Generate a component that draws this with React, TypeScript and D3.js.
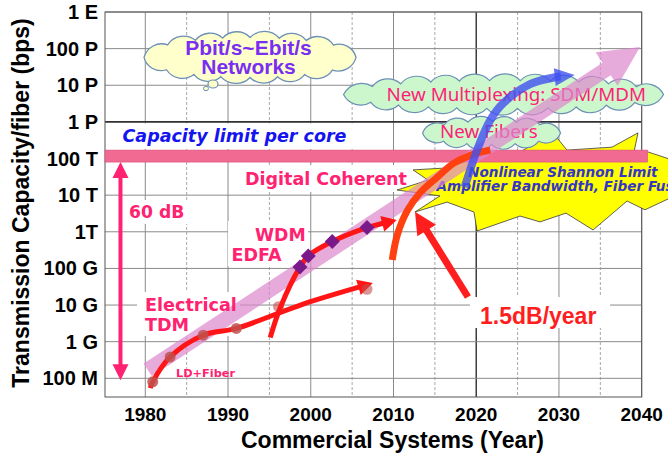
import * as d3 from 'd3';

const W = 668;
const H = 454;

// axis ticks
const yearTicks = [1980, 1990, 2000, 2010, 2020, 2030, 2040];
const midYearTicks = [1985, 1995, 2005, 2015, 2025, 2035];
const capacityTicks = [1e8, 1e9, 1e10, 1e11, 1e12, 1e13, 1e14, 1e15, 1e16, 1e17, 1e18];
const capacityLabels = ['100 M', '1 G', '10 G', '100 G', '1T', '10 T', '100 T', '1 P', '10 P', '100 P', '1 E'];

// Electrical TDM era
const tdmYears = [1980.6, 1980.9, 1983.0, 1987.0, 1991.0, 1999.0, 2007.5];
const tdmValues = [5.4e7, 8e7, 3.8e8, 1.5e9, 2.3e9, 1.05e10, 4e10];
const tdmDotYears = [1980.9, 1983.0, 1987.0, 1991.0, 1996.1, 2006.8];
const tdmDotValues = [8e7, 3.8e8, 1.5e9, 2.3e9, 9e9, 2.7e10];

// WDM / EDFA era
const wdmYears = [1995.1, 1996.3, 1998.7, 1999.7, 2002.6, 2006.8, 2010.4];
const wdmValues = [1.3e9, 8.3e9, 1.1e11, 2.2e11, 5.4e11, 1.3e12, 2.1e12];
const wdmDiamondYears = [1998.7, 1999.7, 2002.6, 2006.8];
const wdmDiamondValues = [1.1e11, 2.2e11, 5.4e11, 1.3e12];

// Digital coherent
const coherentYears = [2009.85, 2010.45, 2011.7, 2013.3, 2015.3, 2017.35, 2020.1, 2021.7];
const coherentValues = [1.7e11, 8.1e11, 3.9e12, 1.22e13, 3.1e13, 7.6e13, 1.41e14, 1.7e14];

// New multiplexing SDM/MDM
const sdmYears = [2018.6, 2020.1, 2021.7, 2023.3, 2026.5, 2029.8, 2031.9];
const sdmValues = [1.66e13, 1.7e14, 1.12e15, 3.3e15, 1.07e16, 1.7e16, 1.9e16];

// overall trend (1.5 dB/year)
const trendYears = [1980.3, 2039.8];
const trendValues = [1.7e8, 1.1e17];

// capacity limit per core
const limitYears = [1975.13, 2040.7];
const limitValues = [8e13, 1.7e14];

// 60 dB span
const spanYear = 1977;
const spanValues = [8.9e7, 8e13];

// pointer from the "1.5dB/year" label
const pointerYears = [2019.0, 2012.6];
const pointerValues = [1.66e10, 3.5e12];

// nonlinear Shannon limit burst outline (year, log10 bps)
const burstYears = [2012.36, 2016.23, 2020.46, 2025.3, 2029.28, 2030.97, 2036.41, 2039.55, 2039.07, 2040.76, 2043.7,
  2043.7, 2040.4, 2038.23, 2034.12, 2030.85, 2027.71, 2025.29, 2020.1, 2019.73, 2016.47, 2012.6, 2015.62, 2010.43, 2014.17];
const burstExps = [13.69, 13.74, 14.04, 14.18, 14.7, 14.23, 14.31, 14.7, 14.18, 14.18, 13.96,
  12.95, 12.6, 12.84, 12.05, 12.51, 12.27, 12.43, 12.02, 12.54, 12.81, 12.54, 12.98, 13.14, 13.41];

const ARIAL = "Arial, 'Liberation Sans', sans-serif";
const NOTO = "'Noto Sans', sans-serif";
const DEJAVU = "'DejaVu Sans', Verdana, sans-serif";
const PINK = '#FF2270';

type Pt = [number, number];

function headPoints(tip: Pt, from: Pt, len: number, half: number) {
  const dx = tip[0] - from[0];
  const dy = tip[1] - from[1];
  const l = Math.hypot(dx, dy);
  const ux = dx / l;
  const uy = dy / l;
  const bx = tip[0] - ux * len;
  const by = tip[1] - uy * len;
  return `${tip[0]},${tip[1]} ${bx - uy * half},${by + ux * half} ${bx + uy * half},${by - ux * half}`;
}

function shorten(pts: Pt[], by: number): Pt[] {
  const n = pts.length;
  const a = pts[n - 2];
  const b = pts[n - 1];
  const l = Math.hypot(b[0] - a[0], b[1] - a[1]);
  const k = (l - by) / l;
  return [...pts.slice(0, n - 1), [a[0] + (b[0] - a[0]) * k, a[1] + (b[1] - a[1]) * k]];
}

function cloudPath(cx: number, cy: number, rx: number, ry: number, n: number) {
  // sample ellipse and space bumps by arc length
  const samples = d3.range(361).map((i) => {
    const t = (i / 360) * 2 * Math.PI + Math.PI;
    return [cx + rx * Math.cos(t), cy + ry * Math.sin(t)] as Pt;
  });
  const cum = [0];
  for (let i = 1; i < samples.length; i++) {
    cum.push(cum[i - 1] + Math.hypot(samples[i][0] - samples[i - 1][0], samples[i][1] - samples[i - 1][1]));
  }
  const total = cum[cum.length - 1];
  const pts: Pt[] = d3.range(n).map((k) => {
    const target = (k / n) * total;
    const idx = d3.bisectLeft(cum, target);
    return samples[Math.min(idx, samples.length - 1)];
  });
  let d = `M${pts[0][0]},${pts[0][1]}`;
  pts.forEach((p, i) => {
    const q = pts[(i + 1) % n];
    const r = Math.hypot(q[0] - p[0], q[1] - p[1]) * 0.68;
    d += ` A${r},${r} 0 0 1 ${q[0]},${q[1]}`;
  });
  return d + 'Z';
}

export default function App() {
  const x = d3.scaleLinear().domain([1975.13, 2040]).range([105, 641.7]);
  const y = d3.scaleLog().domain([10 ** 7.49, 1e18]).range([397, 12]);
  const pt = (yr: number, v: number): Pt => [x(yr), y(v)];
  const smooth = d3.line<Pt>().curve(d3.curveCatmullRom.alpha(0.5));

  const tdmPts = tdmYears.map((yr, i) => pt(yr, tdmValues[i]));
  const wdmPts = wdmYears.map((yr, i) => pt(yr, wdmValues[i]));
  const cohPts = coherentYears.map((yr, i) => pt(yr, coherentValues[i]));
  const sdmPts = sdmYears.map((yr, i) => pt(yr, sdmValues[i]));

  // trend arrow polygon
  const tS = pt(trendYears[0], trendValues[0]);
  const tT = pt(trendYears[1], trendValues[1]);
  const tl = Math.hypot(tT[0] - tS[0], tT[1] - tS[1]);
  const ux = (tT[0] - tS[0]) / tl;
  const uy = (tT[1] - tS[1]) / tl;
  const hw = 7.5;
  const hh = 20;
  const hl = 40;
  const tB: Pt = [tT[0] - ux * hl, tT[1] - uy * hl];
  const trendPoly = [
    [tS[0] - uy * hw, tS[1] + ux * hw],
    [tB[0] - uy * hw, tB[1] + ux * hw],
    [tB[0] - uy * hh, tB[1] + ux * hh],
    tT,
    [tB[0] + uy * hh, tB[1] - ux * hh],
    [tB[0] + uy * hw, tB[1] - ux * hw],
    [tS[0] + uy * hw, tS[1] - ux * hw],
  ]
    .map((p) => p.join(','))
    .join(' ');

  const burst = burstYears.map((yr, i) => pt(yr, 10 ** burstExps[i]).join(',')).join(' ');

  const spanTop = pt(spanYear, spanValues[1]);
  const spanBot = pt(spanYear, spanValues[0]);
  const pS = pt(pointerYears[0], pointerValues[0]);
  const pT = pt(pointerYears[1], pointerValues[1]);

  const petaLine = y(1e15);
  const whiteBoxes = [
    [106, petaLine + 1.5, 260, 149 - petaLine - 1.5],
    [240, 165, 172, 27],
    [126, 200, 64, 24],
    [228, 221, 80, 45],
    [137, 292, 103, 44],
    [470, 297, 140, 31],
  ];

  return (
    <svg width={W} height={H} style={{ position: 'absolute', left: 0, top: 0, background: '#fff' }}>
      {/* grid */}
      {midYearTicks.map((t) => (
        <line key={'m' + t} x1={x(t)} x2={x(t)} y1={12} y2={397} stroke="#a8a8a8" strokeDasharray="3,2" />
      ))}
      {yearTicks.map((t) => (
        <line key={'y' + t} x1={x(t)} x2={x(t)} y1={12} y2={397}
          stroke={t === 2020 ? '#303030' : '#8a8a8a'} strokeWidth={t === 2020 ? 1.4 : 1} />
      ))}
      {whiteBoxes.map((b, i) => (
        <rect key={'wb' + i} x={b[0]} y={b[1]} width={b[2]} height={b[3]} fill="#fff" />
      ))}
      {capacityTicks.map((t) => (
        <line key={'c' + t} x1={105} x2={641.7} y1={y(t)} y2={y(t)}
          stroke={t === 1e15 ? '#303030' : '#8a8a8a'} strokeWidth={t === 1e15 ? 1.6 : 1} />
      ))}
      {whiteBoxes.slice(1).map((b, i) => (
        <rect key={'wc' + i} x={b[0]} y={b[1]} width={b[2]} height={b[3]} fill="#fff" />
      ))}
      <rect x={105} y={12} width={536.7} height={385} fill="none" stroke="#555" />

      {/* Shannon limit burst */}
      <polygon points={burst} fill="#FFFF00" stroke="#3a3a3a" strokeWidth={0.8} />
      <text x={468} y={176.5} fontFamily={DEJAVU} fontSize={13.6} fontWeight="bold" fontStyle="italic" fill="#3535C8">
        Nonlinear Shannon Limit
      </text>
      <text x={436.5} y={190.5} fontFamily={DEJAVU} fontSize={13.6} fontWeight="bold" fontStyle="italic" fill="#3535C8">
        Amplifier Bandwidth, Fiber Fuse
      </text>

      {/* capacity limit per core */}
      <rect x={x(limitYears[0])} y={y(limitValues[1])} width={x(limitYears[1]) - x(limitYears[0])}
        height={y(limitValues[0]) - y(limitValues[1])} fill="#F06A92" stroke="#D8507A" strokeWidth={0.6} />

      {/* clouds */}
      <path d={cloudPath(x(1992.66), y(5.75e16), 106, 20, 16)} fill="#FFFFCC" stroke="#6B8FB5" strokeWidth={1.3} />
      <ellipse cx={213} cy={84} rx={5} ry={4} fill="#FFFFCC" stroke="#6B8FB5" strokeWidth={1.2} />
      <ellipse cx={206} cy={88.5} rx={2.5} ry={2.2} fill="#FFFFCC" stroke="#6B8FB5" strokeWidth={1} />
      <path d={cloudPath(x(2023.3), y(5.6e15), 160, 14, 22)} fill="#CCF7CC" stroke="#6B8FB5" strokeWidth={1.2} />
      <path d={cloudPath(x(2021.85), y(5e14), 69, 11.5, 12)} fill="#CCF7CC" stroke="#6B8FB5" strokeWidth={1.2} />
      <text x={248.5} y={55} textAnchor="middle" fontFamily={ARIAL} fontSize={21} fontWeight="bold" fill="#7A2EF2">
        Pbit/s~Ebit/s
      </text>
      <text x={248.5} y={73.5} textAnchor="middle" fontFamily={ARIAL} fontSize={21} fontWeight="bold" fill="#7A2EF2">
        Networks
      </text>
      <text x={386.5} y={100.5} fontFamily={NOTO} fontSize={18.8} fill="#FF1F78">
        New Multiplexing: SDM/MDM
      </text>
      <text x={440} y={138.3} fontFamily={NOTO} fontSize={18.8} fill="#FF1F78">
        New Fibers
      </text>

      {/* overall trend arrow */}
      <polygon points={trendPoly} fill="#DD88CC" opacity={0.7} />

      {/* Electrical TDM */}
      <path d={smooth(shorten(tdmPts, 10))!} fill="none" stroke="#FF1515" strokeWidth={5} />
      <polygon points={headPoints(tdmPts[tdmPts.length - 1], tdmPts[tdmPts.length - 2], 15, 8)} fill="#FF1515" />
      {tdmDotYears.map((yr, i) => (
        <circle key={'d' + i} cx={x(yr)} cy={y(tdmDotValues[i])} r={5.5} fill="#C0504D" opacity={i >= 4 ? 0.6 : 0.85} />
      ))}

      {/* WDM */}
      <path d={smooth(shorten(wdmPts, 10))!} fill="none" stroke="#FF1515" strokeWidth={5} />
      <polygon points={headPoints(wdmPts[wdmPts.length - 1], wdmPts[wdmPts.length - 2], 15, 8)} fill="#FF1515" />
      {wdmDiamondYears.map((yr, i) => (
        <rect key={'w' + i} x={-5.3} y={-5.3} width={10.6} height={10.6} fill="#7A1A8A"
          transform={`translate(${x(yr)},${y(wdmDiamondValues[i])}) rotate(45)`} />
      ))}

      {/* Digital coherent */}
      <path d={smooth(cohPts)!} fill="none" stroke="#FF4010" strokeWidth={7} />

      {/* SDM/MDM */}
      <path d={smooth(shorten(sdmPts, 14))!} fill="none" stroke="#4050F0" strokeWidth={8} opacity={0.8} />
      <polygon points={headPoints(sdmPts[sdmPts.length - 1], sdmPts[sdmPts.length - 2], 20, 9)} fill="#4050F0" opacity={0.8} />

      {/* 60 dB span */}
      <line x1={spanTop[0]} x2={spanBot[0]} y1={spanTop[1] + 12} y2={spanBot[1] - 12} stroke={PINK} strokeWidth={4} />
      <polygon points={headPoints(spanTop, spanBot, 16, 8)} fill={PINK} />
      <polygon points={headPoints(spanBot, spanTop, 16, 8)} fill={PINK} />

      {/* 1.5dB/year pointer */}
      <line x1={pS[0]} y1={pS[1]} x2={pT[0] + (pS[0] - pT[0]) * 0.15} y2={pT[1] + (pS[1] - pT[1]) * 0.15}
        stroke="#FF1E1E" strokeWidth={7} />
      <polygon points={headPoints(pT, pS, 22, 11)} fill="#FF1E1E" />

      {/* labels */}
      <text x={122.5} y={141.5} fontFamily={DEJAVU} fontSize={17.5} fontWeight="bold" fontStyle="italic" fill="#1414F0">
        Capacity limit per core
      </text>
      <text x={245} y={185} fontFamily={DEJAVU} fontSize={17.5} fontWeight="bold" fill={PINK}>Digital Coherent</text>
      <text x={129} y={218} fontFamily={DEJAVU} fontSize={17.2} fontWeight="bold" fill={PINK}>60 dB</text>
      <text x={255} y={241} fontFamily={DEJAVU} fontSize={17.3} fontWeight="bold" fill={PINK}>WDM</text>
      <text x={231.5} y={261} fontFamily={DEJAVU} fontSize={17.5} fontWeight="bold" fill={PINK}>EDFA</text>
      <text x={145} y={310.5} fontFamily={DEJAVU} fontSize={17.6} fontWeight="bold" fill={PINK}>Electrical</text>
      <text x={145} y={330.5} fontFamily={DEJAVU} fontSize={17.6} fontWeight="bold" fill={PINK}>TDM</text>
      <text x={176} y={376.5} fontFamily={DEJAVU} fontSize={11.3} fontWeight="bold" fill={PINK}>LD+Fiber</text>
      <text x={480} y={324} fontFamily={ARIAL} fontSize={23} fontWeight="bold" fill="#FF1E1E">1.5dB/year</text>

      {/* axes labels */}
      {capacityTicks.map((t, i) => (
        <text key={'cl' + t} x={98} y={y(t) + 7} textAnchor="end" fontFamily={ARIAL} fontSize={20} fontWeight="bold">
          {capacityLabels[i]}
        </text>
      ))}
      {yearTicks.map((t) => (
        <text key={'yl' + t} x={x(t)} y={421} textAnchor="middle" fontFamily={ARIAL} fontSize={19} fontWeight="bold">
          {t}
        </text>
      ))}
      <text x={392.5} y={448} textAnchor="middle" fontFamily={ARIAL} fontSize={23} fontWeight="bold">
        Commercial Systems (Year)
      </text>
      <text transform="translate(28.5,203) rotate(-90)" textAnchor="middle" fontFamily={ARIAL} fontSize={23} fontWeight="bold">
        Transmission Capacity/fiber (bps)
      </text>
    </svg>
  );
}
